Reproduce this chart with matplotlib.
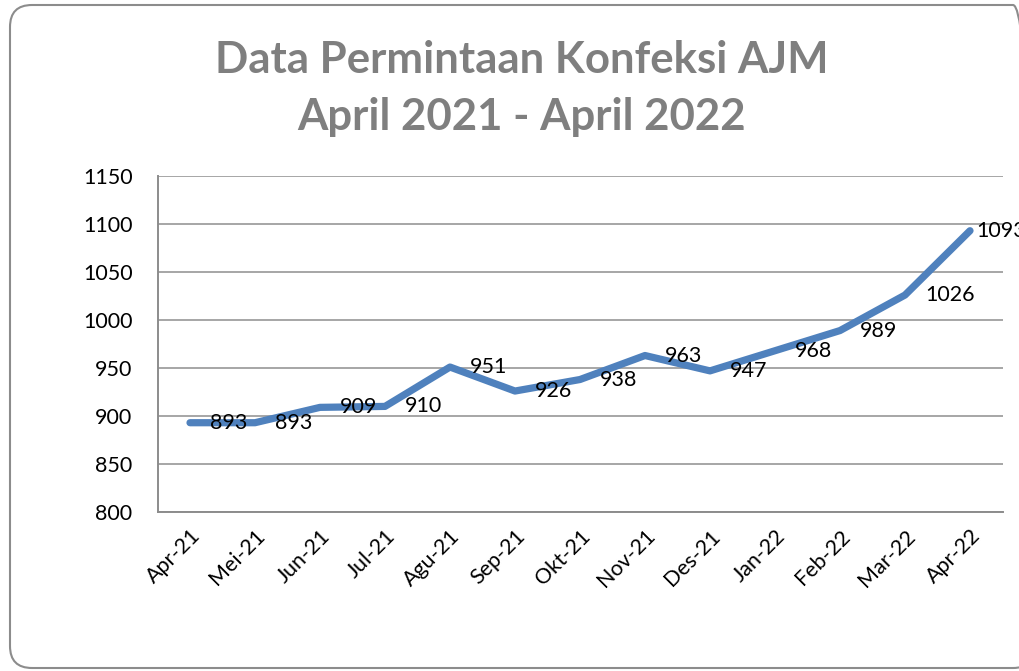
# -*- coding: utf-8 -*-
import numpy as np
import matplotlib.pyplot as plt
from matplotlib.patches import FancyBboxPatch
from matplotlib.transforms import IdentityTransform

# * Data
bulan = ["Apr-21", "Mei-21", "Jun-21", "Jul-21", "Agu-21", "Sep-21", "Okt-21",
         "Nov-21", "Des-21", "Jan-22", "Feb-22", "Mar-22", "Apr-22"]
permintaan = [893, 893, 909, 910, 951, 926, 938, 963, 947, 968, 989, 1026, 1093]
y_ticks = [800, 850, 900, 950, 1000, 1050, 1100, 1150]

plt.rcParams['font.family'] = ['Lato', 'DejaVu Sans']

# * Figure
fig = plt.figure(figsize=(10.2, 6.71), dpi=100)
W, H = 1020, 671
ax = fig.add_axes([157.5 / W, (H - 512) / H, 845 / W, 336 / H])

x = np.arange(len(bulan))
ax.plot(x, permintaan, color="#4F81BD", linewidth=5.2,
        solid_capstyle="round", solid_joinstyle="round", zorder=3)

# data labels to the right of each point
for i, v in enumerate(permintaan):
    dx = 6 if i == len(permintaan) - 1 else 20
    ax.annotate(str(v), (x[i], v), xytext=(dx, 0), textcoords="offset pixels",
                ha="left", va="center", fontsize=15.5, color="black",
                annotation_clip=False, zorder=4)

ax.set_xlim(-0.5, len(bulan) - 0.5)
ax.set_ylim(800, 1150)
ax.set_yticks(y_ticks)
ax.set_xticks(x)
ax.set_xticklabels(bulan, rotation=45, ha="right", rotation_mode="anchor")
ax.tick_params(axis="both", length=0, labelsize=15.5, labelcolor="black")
ax.tick_params(axis="y", pad=18)
ax.tick_params(axis="x", pad=10)

ax.grid(axis="y", color="#A6A6A6", linewidth=1.4)
ax.set_axisbelow(True)
for s in ["top", "right"]:
    ax.spines[s].set_visible(False)
for s in ["left", "bottom"]:
    ax.spines[s].set_color("#8C8C8C")
    ax.spines[s].set_linewidth(1.4)

# * Title
fig.text(522 / W, 1 - 60 / H, "Data Permintaan Konfeksi AJM", ha="center", va="center",
         fontsize=31.5, fontweight="bold", color="#7F7F7F")
fig.text(522 / W, 1 - 117 / H, "April 2021 - April 2022", ha="center", va="center",
         fontsize=31.5, fontweight="bold", color="#7F7F7F")

# * Rounded border
border = FancyBboxPatch((10, 3), 1025, 663, boxstyle="round,pad=0,rounding_size=22",
                        transform=IdentityTransform(), facecolor="none",
                        edgecolor="#8C8C8C", linewidth=1.5)
fig.add_artist(border)

fig.savefig("out.png", dpi=100)
